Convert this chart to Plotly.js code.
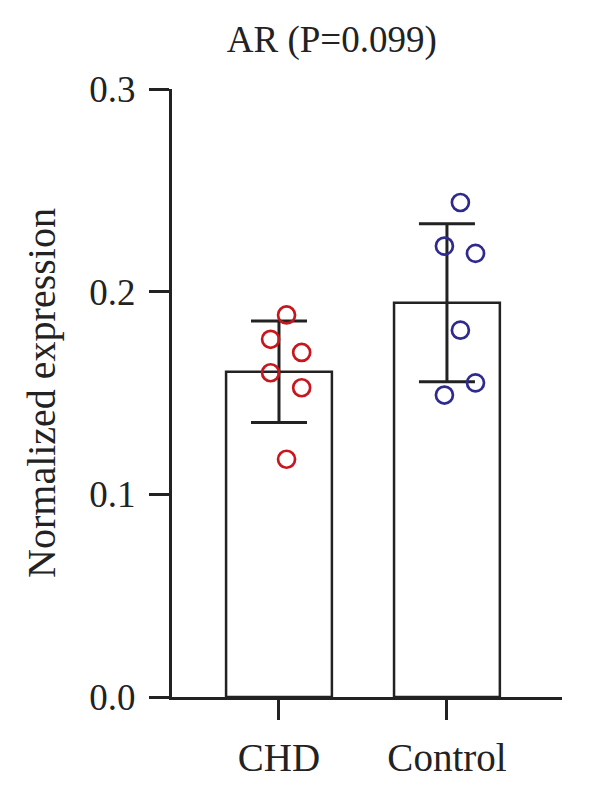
<!DOCTYPE html>
<html>
<head>
<meta charset="utf-8">
<script src="https://cdn.plot.ly/plotly-3.0.1.min.js"></script>
<style>html,body{margin:0;padding:0;background:#fff;}#chart{width:600px;height:790px;}</style>
</head>
<body>
<div id="chart"></div>
<script>
const categories = ["CHD", "Control"];
const means = [0.1605, 0.1945];
const sds = [0.0250, 0.0390];
const chdValues = [0.1885, 0.1765, 0.170, 0.160, 0.1526, 0.1173];
const controlValues = [0.244, 0.2225, 0.2189, 0.181, 0.155, 0.149];
const chdJitter = [0.045, -0.05, 0.135, -0.05, 0.135, 0.045];
const controlJitter = [0.08, -0.015, 0.17, 0.08, 0.17, -0.015];
const yTicks = [0, 0.1, 0.2, 0.3];
const titleText = "AR (P=0.099)";
const yTitle = "Normalized expression";

const FONT = "Liberation Serif, Times New Roman, serif";
const ink = "#222222";

const traces = [
  {
    type: "bar",
    x: [0, 1],
    y: means,
    width: 0.63,
    marker: {color: "#ffffff", line: {color: ink, width: 2.5}},
    error_y: {type: "data", array: sds, visible: true, color: ink, thickness: 3, width: 28},
    hoverinfo: "skip"
  },
  {
    type: "scatter", mode: "markers",
    x: chdJitter.map(d => 0 + d),
    y: chdValues,
    marker: {symbol: "circle-open", size: 17, color: "#c8161d", line: {width: 2.7, color: "#c8161d"}}
  },
  {
    type: "scatter", mode: "markers",
    x: controlJitter.map(d => 1 + d),
    y: controlValues,
    marker: {symbol: "circle-open", size: 17, color: "#2e2a8e", line: {width: 2.7, color: "#2e2a8e"}}
  }
];

const layout = {
  width: 600, height: 790,
  margin: {l: 172, r: 38, t: 89, b: 93},
  paper_bgcolor: "#ffffff", plot_bgcolor: "#ffffff",
  showlegend: false,
  font: {family: FONT, color: ink},
  title: {text: titleText, font: {family: FONT, size: 37, color: ink}, x: 0.553, xanchor: "center", y: 0.951, yanchor: "middle"},
  xaxis: {
    range: [-0.637, 1.685],
    tickvals: [0, 1], ticktext: categories,
    showline: true, linecolor: ink, linewidth: 3,
    ticks: "outside", ticklen: 20, tickwidth: 3, tickcolor: ink,
    showgrid: false, zeroline: false,
    ticklabelstandoff: 4,
    tickfont: {family: FONT, size: 39, color: ink}
  },
  yaxis: {
    range: [0, 0.3],
    tickvals: yTicks, tickformat: ".1f",
    showline: true, linecolor: ink, linewidth: 3,
    ticks: "outside", ticklen: 20, tickwidth: 3, tickcolor: ink,
    showgrid: false, zeroline: false,
    ticklabelstandoff: 6,
    tickfont: {family: FONT, size: 37, color: ink},
    title: {text: yTitle, font: {family: FONT, size: 40, color: ink}, standoff: 22}
  }
};

Plotly.newPlot("chart", traces, layout, {displayModeBar: false, staticPlot: true});
</script>
</body>
</html>
